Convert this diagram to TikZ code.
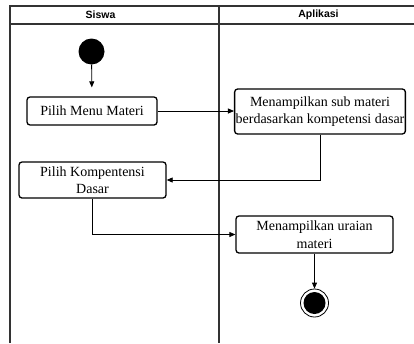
\documentclass[tikz,border=0pt]{standalone}
\usepackage{fontspec}
\setmainfont{Liberation Serif}
\newfontfamily\lanefont{Liberation Sans}
\usepackage{tikz}
\usetikzlibrary{positioning,arrows.meta}

\tikzset{
  aktivitas/.style={draw, line width=1.3pt, rounded corners=3pt, align=center,
    font=\fontsize{14}{17.5}\selectfont, inner sep=1pt},
  alur/.style={-{Triangle[length=6pt,width=5pt]}, line width=0.8pt},
  lajur/.style={line width=2pt, black!80},
  judul/.style={font=\lanefont\bfseries\fontsize{10.5}{12}\selectfont}
}

\begin{document}
\begin{tikzpicture}[x=1pt, y=-1pt]
  \useasboundingbox (0,0) rectangle (414,343);

  % Lajur (swimlane)
  \draw[lajur] (10,343) -- (10,5.7) -- (414,5.7);
  \draw[lajur] (10,24) -- (414,24);
  \draw[lajur] (219,5.7) -- (219,343);
  \node[judul] (siswa) at (100.5,15) {Siswa};
  \node[judul] (aplikasi) at (318.5,15) {Aplikasi};

  % Titik awal dan akhir
  \node[circle, fill=black, minimum size=26pt, inner sep=0pt] (mulai) at (91.5,51.5) {};
  \node[circle, draw, line width=0.8pt, minimum size=28pt, inner sep=0pt] (selesai) at (314.5,303) {};
  \node[circle, fill=black, minimum size=22pt, inner sep=0pt] (selesaiIsi) at (selesai.center) {};

  % Aktivitas
  \node[aktivitas, minimum width=130pt, minimum height=28pt] (menu) at (92,111) {Pilih Menu Materi};
  \node[aktivitas, minimum width=170pt, minimum height=45pt] (sub) at (320,111.5)
    {Menampilkan sub materi\\berdasarkan kompetensi dasar};
  \node[aktivitas, minimum width=147pt, minimum height=36pt] (kompetensi) at (92.5,180)
    {Pilih Kompentensi\\Dasar};
  \node[aktivitas, minimum width=157pt, minimum height=37pt] (uraian) at (314.5,234.5)
    {Menampilkan uraian\\materi};

  % Alur
  \draw[alur, shorten >=9pt] (mulai) -- (menu);
  \draw[alur] (menu.east) -- (sub.west |- menu.east);
  \draw[alur] (sub.south) |- (kompetensi.east);
  \draw[alur] (kompetensi.south) |- (uraian.west);
  \draw[alur] (uraian.south) -- (selesai.north);
\end{tikzpicture}
\end{document}
